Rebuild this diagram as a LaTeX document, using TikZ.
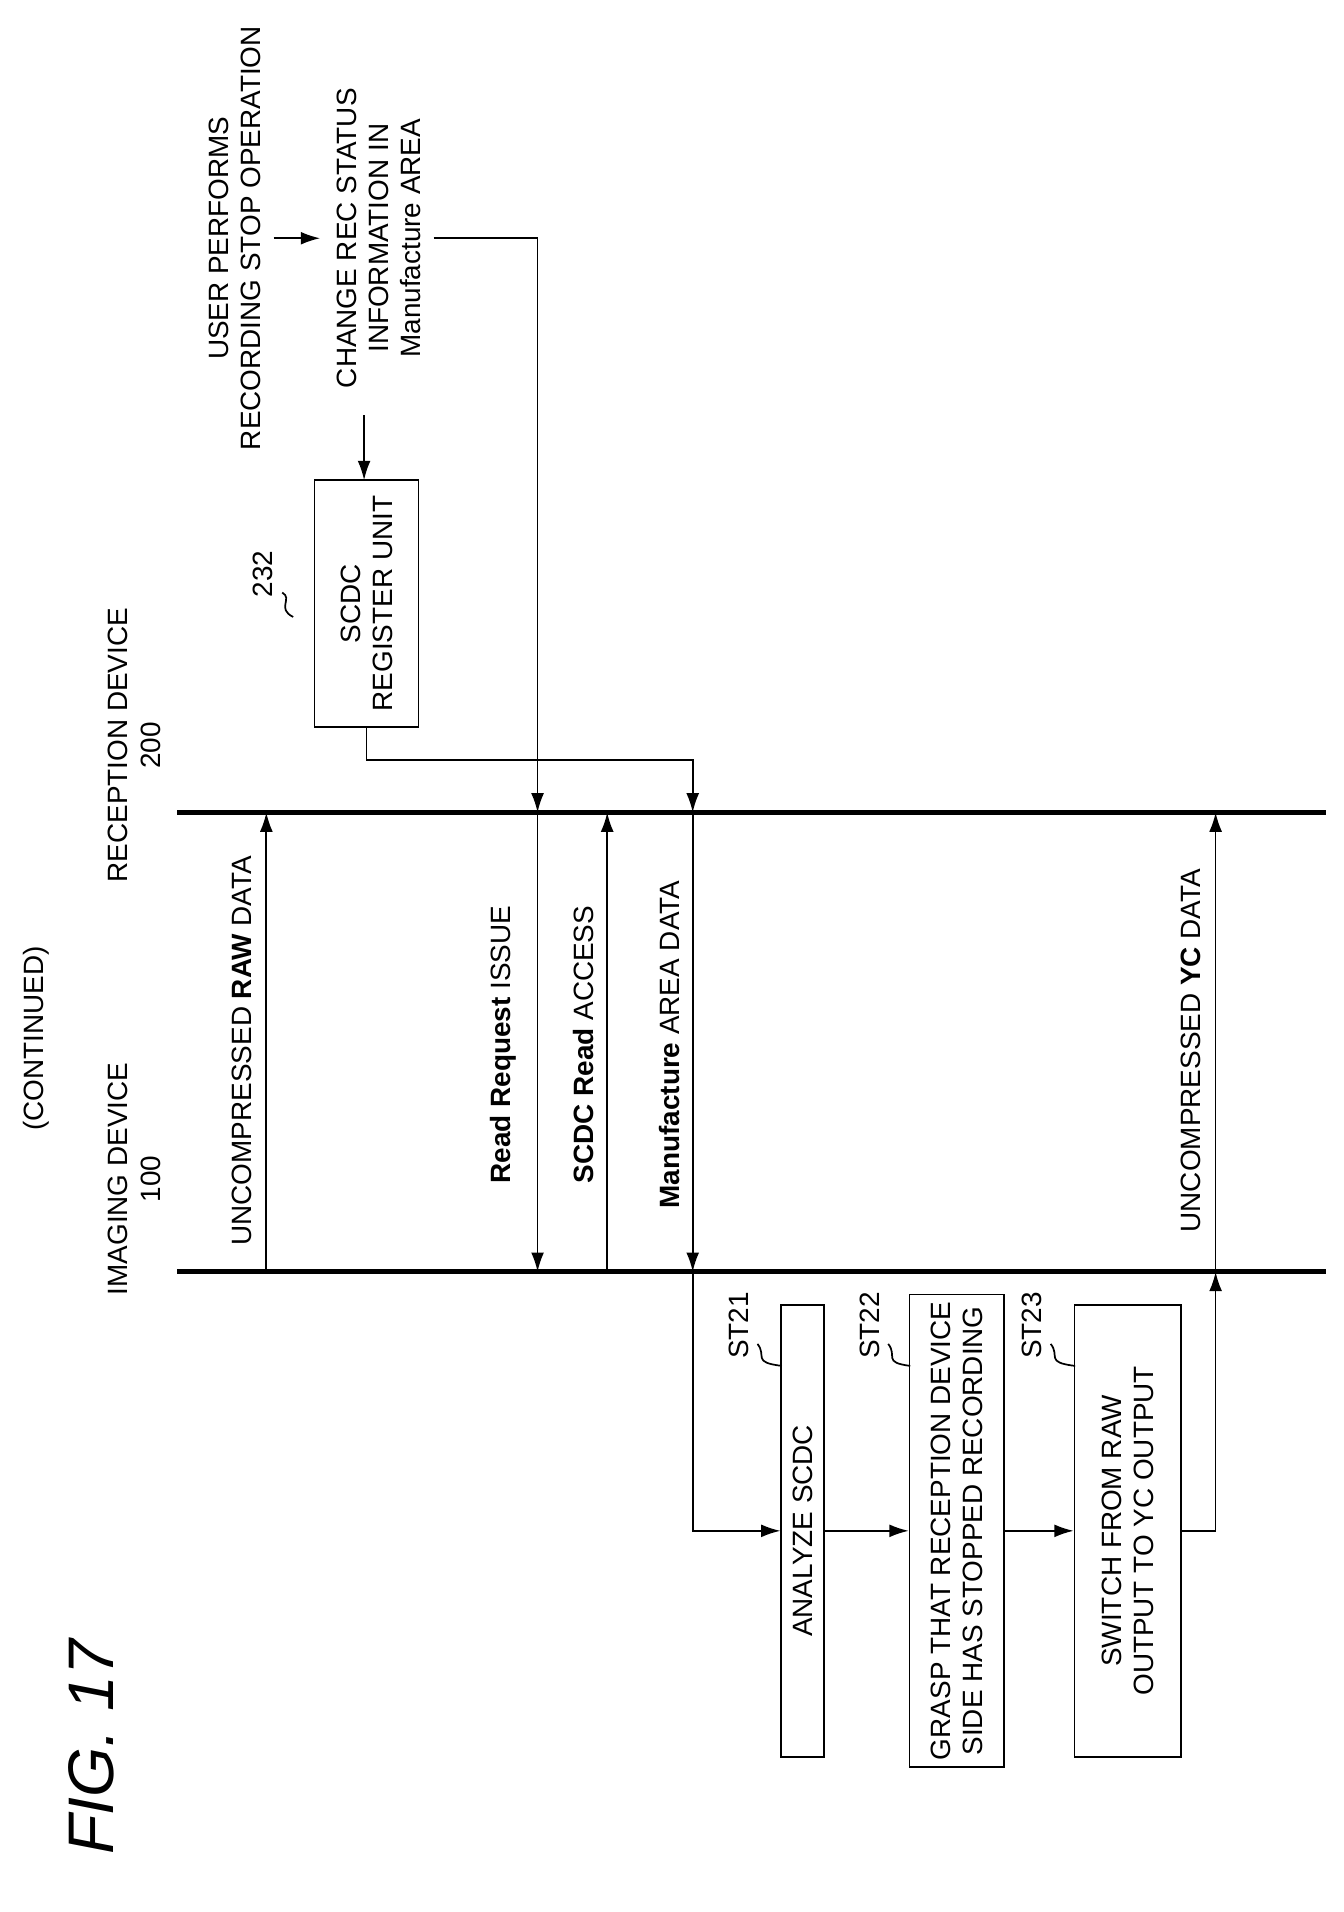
\documentclass[tikz,border=0pt]{standalone}
\usepackage{fontspec}
\setmainfont{Liberation Sans}
\usetikzlibrary{arrows.meta,positioning}
\tikzset{
  lbl/.style={rotate=90,font=\fontsize{13}{15}\selectfont,align=center,inner sep=1pt},
  stepbox/.style={draw,thick,rotate=90,font=\fontsize{13}{15}\selectfont,align=center,minimum width=7.4cm},
  bus/.style={line width=2.2pt},
  sig/.style={thick,-{Latex[length=9pt,width=6pt]}},
  wire/.style={thick}
}
\begin{document}
\begin{tikzpicture}[x=0.02cm,y=-0.02cm]
\useasboundingbox (0,0) rectangle (1100,1565);

%Headers
\node (fig) at (75,1430) [rotate=90,font=\fontsize{30}{32}\selectfont\itshape] {FIG. 17};
\node (cont) at (30,850) [lbl] {(CONTINUED)};
\node (rx) at (110,610) [lbl] {RECEPTION DEVICE\\200};
\node (tx) at (110,965) [lbl] {IMAGING DEVICE\\100};

%Device lines
\coordinate (rxl) at (145,665);
\coordinate (rxr) at (1085,665);
\coordinate (txl) at (145,1041);
\coordinate (txr) at (1085,1041);
\draw[bus] (rxl) -- (rxr);
\draw[bus] (txl) -- (txr);

%Register side
\node (user) at (192,195) [lbl] {USER PERFORMS\\RECORDING STOP OPERATION};
\node (chg) at (310,195) [lbl] {CHANGE REC STATUS\\INFORMATION IN\\Manufacture AREA};
\node (reg) at (300,494) [draw,thick,rotate=90,font=\fontsize{13}{15}\selectfont,align=center,minimum width=4.04cm,minimum height=1.7cm] {SCDC\\REGISTER UNIT};
\node (n232) at (215,470) [lbl] {232};
\draw[wire] (231,485) .. controls (240,490) and (226,498) .. (240,505);
\draw[sig] (224,195) -- (262,195);
\draw[sig] (298,340) -- (298,393);

%Messages
\coordinate (r218) at (218,665);  \coordinate (t218) at (218,1041);
\coordinate (r440) at (440,665);  \coordinate (t440) at (440,1041);
\coordinate (r497) at (497,665);  \coordinate (t497) at (497,1041);
\coordinate (r567) at (567,665);  \coordinate (t567) at (567,1041);
\coordinate (r995) at (995,665);  \coordinate (t995) at (995,1041);
\draw[sig] (t218) -- (r218);
\draw[sig] (r440) -- (t440);
\draw[sig] (t497) -- (r497);
\draw[sig] (r567) -- (t567);
\draw[sig] (t995) -- (r995);
\node (raw) at (198,860) [lbl] {UNCOMPRESSED \textbf{RAW} DATA};
\node (rrq) at (412,855) [lbl] {\textbf{Read Request} ISSUE};
\node (acc) at (478,855) [lbl] {\textbf{SCDC Read} ACCESS};
\node (mad) at (548,855) [lbl] {\textbf{Manufacture} AREA DATA};
\node (yc) at (975,860) [lbl] {UNCOMPRESSED \textbf{YC} DATA};

\draw[sig] (355,195) -| (r440);
\draw[sig] (reg.west) |- (567,622) -- (r567);

%Steps
\node (st21) at (657,1253) [stepbox,minimum height=0.7cm] {ANALYZE SCDC};
\node (st22) at (783,1253) [stepbox,minimum height=1.54cm] {GRASP THAT RECEPTION DEVICE\\SIDE HAS STOPPED RECORDING};
\node (st23) at (923,1253) [stepbox,minimum height=1.74cm] {SWITCH FROM RAW\\OUTPUT TO YC OUTPUT};
\node (l21) at (605,1085) [lbl] {ST21};
\node (l22) at (712,1085) [lbl] {ST22};
\node (l23) at (845,1085) [lbl] {ST23};
\draw[wire] (620,1100) .. controls (628,1110) and (615,1115) .. (640,1118);
\draw[wire] (727,1100) .. controls (735,1110) and (722,1115) .. (745,1118);
\draw[wire] (860,1100) .. controls (868,1110) and (855,1115) .. (880,1118);

\draw[sig] (t567) |- (st21.north);
\draw[sig] (st21.south) -- (st22.north);
\draw[sig] (st22.south) -- (st23.north);
\draw[sig] (st23.south) -| (t995);
\end{tikzpicture}
\end{document}
